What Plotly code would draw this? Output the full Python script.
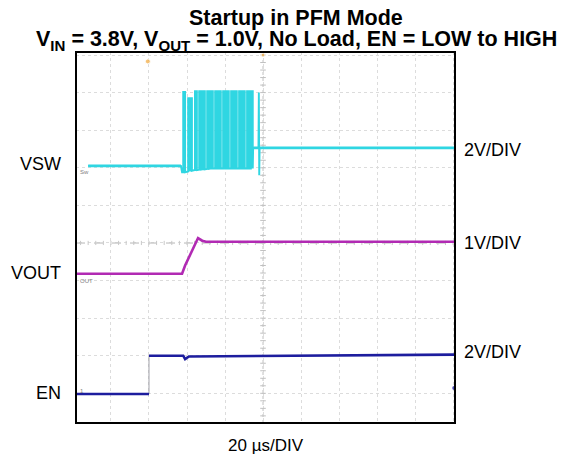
import plotly.graph_objects as go
import numpy as np

# ---- data (time in divisions from screen center, voltage in divisions from center line) ----
vsw_before_t = [-4.60, -2.16]
vsw_before_v = [2.05, 2.05]
sw_pulse_time = [-2.10, -1.97, -1.92, -1.79, -1.68, -1.58, -1.47, -1.37, -1.26, -1.16,
                 -1.05, -0.95, -0.84, -0.74, -0.63, -0.53, -0.42, -0.32]
sw_pulse_top = [4.02, 3.85, 3.85, 4.04, 4.04, 4.04, 4.04, 4.04, 4.04, 4.04,
                4.04, 4.04, 4.04, 4.04, 4.04, 4.04, 4.04, 4.04]
sw_pulse_low = [1.88, 1.90, 1.92, 1.94, 1.95, 1.96, 1.97, 1.98, 1.98, 1.98,
                1.98, 1.98, 1.98, 1.98, 1.98, 1.98, 1.98, 1.98]
sw_pulse_width = 0.05
vsw_after_t = [-0.26, -0.12, -0.11, -0.10, -0.09, 5.05]
vsw_after_v = [2.53, 2.53, 4.00, 1.80, 2.53, 2.53]

vout_t = [-4.90, -2.13, -2.05, -1.71, -1.60, -1.50, 5.05]
vout_v = [-0.82, -0.82, -0.60, 0.13, 0.06, 0.03, 0.03]

en_low_t = [-4.90, -3.00]
en_low_v = [-4.02, -4.02]
en_high_t = [-3.00, -2.10, -2.05, -1.95, 5.05]
en_high_v = [-3.00, -3.00, -3.09, -3.02, -2.97]

channel_names = ["VSW", "VOUT", "EN"]
channel_label_y = [2.10, -0.80, -4.00]
channel_scale = ["2V/DIV", "1V/DIV", "2V/DIV"]
channel_scale_y = [2.48, 0.0, -2.90]
channel_tags = ["Sw", "OUT", "1"]
channel_tag_y = [1.90, -1.00, -3.95]
trigger_time = -3.03
time_scale = "20 µs/DIV"

CYAN = "#2fd6e2"
MAG = "#b12ab3"
BLUE = "#1d1d9e"

X0, X1 = -4.92, 5.05
Y0, Y1 = -4.79, 5.08

# page body offset of 8px is compensated in figure size/margins
OFF = 8
W, H = 573 - OFF, 455 - OFF
ML, MT = 76 - OFF, 52 - OFF
PW, PH = 379, 371
MR = W - ML - PW
MB = H - MT - PH

# build switching waveform
sx = list(vsw_before_t)
sy = list(vsw_before_v)
sx.append(-2.13); sy.append(1.88)
for t, top, low in zip(sw_pulse_time, sw_pulse_top, sw_pulse_low):
    sx += [t, t, t + sw_pulse_width, t + sw_pulse_width]
    sy += [low, top, top, low]
sx += [-0.27]; sy += [1.98]
sx += vsw_after_t; sy += vsw_after_v

fig = go.Figure()

# center graticule minor ticks
tick_pos_x = np.arange(-4.8, 5.01, 0.2)
tick_pos_y = np.arange(-4.6, 5.01, 0.2)
fig.add_trace(go.Scatter(x=tick_pos_x, y=[0] * len(tick_pos_x), mode="markers",
                         marker=dict(symbol="line-ns", size=3, line=dict(color="#c8c8c8", width=1)),
                         hoverinfo="skip", showlegend=False))
fig.add_trace(go.Scatter(x=[0] * len(tick_pos_y), y=tick_pos_y, mode="markers",
                         marker=dict(symbol="line-ew", size=4, line=dict(color="#c0c0c0", width=1)),
                         hoverinfo="skip", showlegend=False))

fig.add_trace(go.Scatter(x=sx, y=sy, mode="lines", line=dict(color=CYAN, width=1.9),
                         showlegend=False, hoverinfo="skip"))
fig.add_trace(go.Scatter(x=[vsw_before_t[0], vsw_before_t[-1]], y=vsw_before_v, mode="lines",
                         line=dict(color=CYAN, width=2.8), showlegend=False, hoverinfo="skip"))
fig.add_trace(go.Scatter(x=[vsw_after_t[0], vsw_after_t[-1]], y=[vsw_after_v[0], vsw_after_v[-1]], mode="lines",
                         line=dict(color=CYAN, width=2.8), showlegend=False, hoverinfo="skip"))
fig.add_trace(go.Scatter(x=vout_t, y=vout_v, mode="lines", line=dict(color=MAG, width=2.6),
                         showlegend=False, hoverinfo="skip"))
fig.add_trace(go.Scatter(x=[en_low_t[-1], en_high_t[0]], y=[en_low_v[-1], en_high_v[0]], mode="lines",
                         line=dict(color="#a0a0a8", width=1), showlegend=False, hoverinfo="skip"))
fig.add_trace(go.Scatter(x=en_low_t, y=en_low_v, mode="lines", line=dict(color=BLUE, width=2.6),
                         showlegend=False, hoverinfo="skip"))
fig.add_trace(go.Scatter(x=en_high_t, y=en_high_v, mode="lines", line=dict(color=BLUE, width=2.6),
                         showlegend=False, hoverinfo="skip"))

# markers: trigger position, center, channel offset
fig.add_trace(go.Scatter(x=[trigger_time, 0], y=[Y1 - 0.25, Y1 - 0.08], mode="markers",
                         marker=dict(color="#f2a83a", size=[5, 4]), showlegend=False, hoverinfo="skip"))
fig.add_trace(go.Scatter(x=[X1 - 0.02], y=[-3.86], mode="markers",
                         marker=dict(color="#4a4ab0", size=4), showlegend=False, hoverinfo="skip"))

fig.add_shape(type="line", x0=X0, x1=X1, y0=0, y1=0, line=dict(color="#a8a8a8", width=1, dash="dash"),
              layer="below")
fig.add_shape(type="line", x0=0, x1=0, y0=Y0, y1=Y1, line=dict(color="#c0c0c0", width=1, dash="dot"),
              layer="below")
fig.add_shape(type="rect", xref="paper", yref="paper", x0=0, x1=1, y0=0, y1=1,
              line=dict(color="black", width=2))

FONT = "Liberation Sans, Arial, sans-serif"
ann = []
for name, y in zip(channel_names, channel_label_y):
    ann.append(dict(x=-0.035, xref="paper", y=y, yref="y", text=name, showarrow=False,
                    xanchor="right", yanchor="middle", font=dict(size=18, color="black", family=FONT)))
for lab, y in zip(channel_scale, channel_scale_y):
    ann.append(dict(x=1.018, xref="paper", y=y, yref="y", text=lab, showarrow=False,
                    xanchor="left", yanchor="middle", font=dict(size=18, color="black", family=FONT)))
for tag, y in zip(channel_tags, channel_tag_y):
    ann.append(dict(x=-4.88, y=y, text=tag, showarrow=False, xanchor="left", yanchor="middle",
                    font=dict(size=6, color="#808080", family=FONT)))
ann.append(dict(x=0.5, xref="paper", y=-0.029, yref="paper", text=time_scale, showarrow=False,
                xanchor="center", yanchor="top", font=dict(size=17, color="black", family=FONT)))

fig.update_layout(
    width=W, height=H,
    margin=dict(l=ML, r=MR, t=MT, b=MB),
    paper_bgcolor="white", plot_bgcolor="white",
    xaxis=dict(range=[X0, X1], showticklabels=False, ticks="", zeroline=False,
               showgrid=True, dtick=1, tick0=0, gridcolor="#dcdcdc", griddash="dot", gridwidth=1),
    yaxis=dict(range=[Y0, Y1], showticklabels=False, ticks="", zeroline=False,
               showgrid=True, dtick=1, tick0=0, gridcolor="#dcdcdc", griddash="dot", gridwidth=1),
    annotations=ann,
)

# title lines placed by window pixel position
def px_to_paper(px, py):
    return (px - OFF - ML) / PW, (H - MB - (py - OFF)) / PH

tx, ty1 = px_to_paper(296, 18.0)
_, ty2 = px_to_paper(296, 40.5)
fig.add_annotation(x=tx, y=ty1, xref="paper", yref="paper", text="<b>Startup in PFM Mode</b>",
                   showarrow=False, xanchor="center", yanchor="middle",
                   font=dict(size=21.5, color="black", family=FONT))
fig.add_annotation(x=tx, y=ty2, xref="paper", yref="paper",
                   text="<b>V<sub>IN</sub> = 3.8V, V<sub>OUT</sub> = 1.0V, No Load, EN = LOW to HIGH</b>",
                   showarrow=False, xanchor="center", yanchor="middle",
                   font=dict(size=21.5, color="black", family=FONT))

fig.write_html("out.html")
